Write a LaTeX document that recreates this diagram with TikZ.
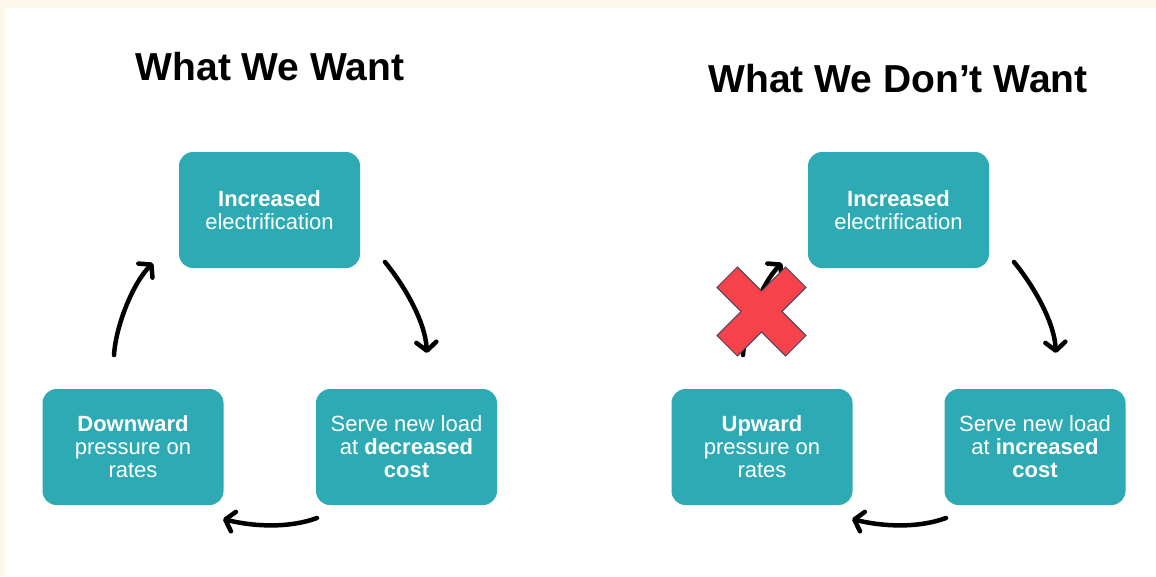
\documentclass[tikz,border=0pt]{standalone}
\usepackage{fontspec}
\setmainfont{Liberation Sans}
\usetikzlibrary{arrows.meta}
\definecolor{boxteal}{RGB}{46,170,181}
\definecolor{pagecream}{RGB}{253,248,236}
\definecolor{crossred}{RGB}{245,66,75}
\definecolor{crossedge}{RGB}{59,63,92}
\begin{document}
\begin{tikzpicture}[x=1pt,y=-1pt,
  cyclebox/.style={fill=boxteal, rounded corners=14pt, minimum width=181pt,
    minimum height=116pt, text=white, align=center, inner sep=0pt,
    font=\fontsize{22}{23}\selectfont},
  heading/.style={anchor=base, font=\fontsize{39}{42}\selectfont\bfseries},
  flow/.style={line width=4.5pt, line cap=round,
    -{Straight Barb[length=8.5pt,width=20pt,round]}}]

% page background with a cream margin on top and left
\useasboundingbox (0,0) rectangle (1156,576);
\fill[pagecream] (0,0) rectangle (1156,576);
\fill[white] (5,8) rectangle (1156,576);

% ---------- left cycle ----------
\node[heading] (titleA) at (270,80) {What We Want};
\node[cyclebox] (elecA) at (269.5,210) {\textbf{Increased}\\electrification};
\node[cyclebox] (rateA) at (133,447) {\textbf{Downward}\\pressure on\\rates};
\node[cyclebox] (costA) at (406.5,447) {Serve new load\\at \textbf{decreased}\\\textbf{cost}};

\coordinate (a1s) at (385,262);  \coordinate (a1e) at (427,353);
\coordinate (a2s) at (317,518);  \coordinate (a2e) at (223,519);
\coordinate (a3s) at (114,355);  \coordinate (a3e) at (153,263);
\draw[flow] (a1s) .. controls (403,284) and (425,320) .. (a1e);
\draw[flow] (a2s) .. controls (290,528) and (255,527) .. (a2e);
\draw[flow] (a3s) .. controls (116,325) and (133,283) .. (a3e);

% ---------- right cycle ----------
\node[heading] (titleB) at (898,92) {What We Don’t Want};
\node[cyclebox] (elecB) at (898.5,210) {\textbf{Increased}\\electrification};
\node[cyclebox] (rateB) at (762,447) {\textbf{Upward}\\pressure on\\rates};
\node[cyclebox] (costB) at (1035,447) {Serve new load\\at \textbf{increased}\\\textbf{cost}};

\coordinate (b1s) at (1014,262); \coordinate (b1e) at (1056,353);
\coordinate (b2s) at (946,518);  \coordinate (b2e) at (852,519);
\coordinate (b3s) at (743,355);  \coordinate (b3e) at (782,263);
\draw[flow] (b1s) .. controls (1032,284) and (1054,320) .. (b1e);
\draw[flow] (b2s) .. controls (919,528) and (884,527) .. (b2e);
\draw[flow] (b3s) .. controls (745,325) and (762,283) .. (b3e);

% red cross over the broken link
\begin{scope}[shift={(761.5,311.5)}, rotate=45]
  \filldraw[fill=crossred, draw=crossedge, line width=0.8pt, line join=miter]
    (48.5,14.5) -- (14.5,14.5) -- (14.5,48.5) -- (-14.5,48.5) -- (-14.5,14.5)
    -- (-48.5,14.5) -- (-48.5,-14.5) -- (-14.5,-14.5) -- (-14.5,-48.5)
    -- (14.5,-48.5) -- (14.5,-14.5) -- (48.5,-14.5) -- cycle;
\end{scope}
\end{tikzpicture}
\end{document}
